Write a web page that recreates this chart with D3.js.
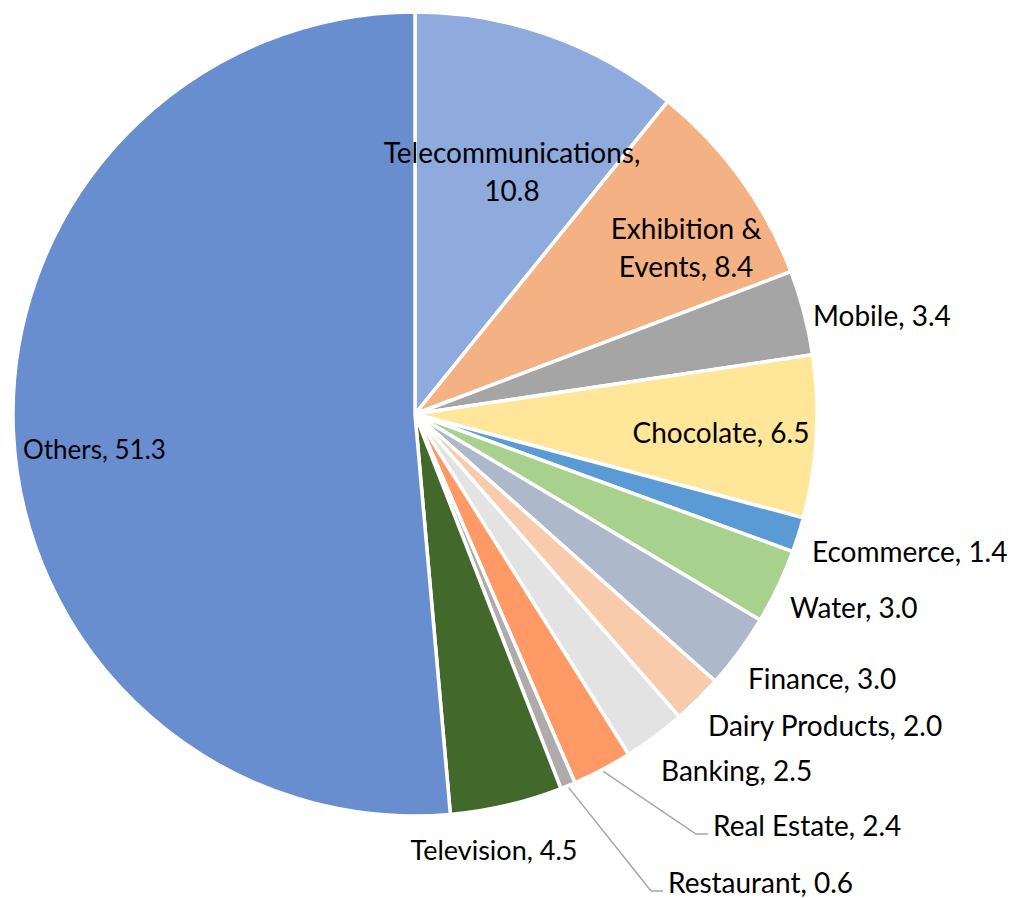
<!DOCTYPE html>
<html>
<head>
<meta charset="utf-8">
<script src="https://cdn.jsdelivr.net/npm/d3@7"></script>
<style>
  body { margin: 0; background: #fff; }
  svg text { font-family: Lato, "Open Sans", sans-serif; fill: #000; }
</style>
</head>
<body>
<svg id="chart" width="1010" height="898"></svg>
<script>
// slices, clockwise from 12 o'clock
var categories = ['Telecommunications', 'Exhibition & Events', 'Mobile', 'Chocolate', 'Ecommerce',
	'Water', 'Finance', 'Dairy Products', 'Banking', 'Real Estate', 'Restaurant', 'Television', 'Others']
var values = [10.8, 8.4, 3.4, 6.5, 1.4, 3.0, 3.0, 2.0, 2.5, 2.4, 0.6, 4.5, 51.3]
var colors = ['#8FAADC', '#F4B183', '#A5A5A5', '#FFE699', '#5B9BD5', '#A9D18E', '#ADB9CA',
	'#F8CBAD', '#E3E3E3', '#FF9A66', '#AFABAB', '#43682B', '#698ED0']

// label text lines
var labelLines = [
	['Telecommunications,', '10.8'],
	['Exhibition &', 'Events, 8.4'],
	['Mobile, 3.4'],
	['Chocolate, 6.5'],
	['Ecommerce, 1.4'],
	['Water, 3.0'],
	['Finance, 3.0'],
	['Dairy Products, 2.0'],
	['Banking, 2.5'],
	['Real Estate, 2.4'],
	['Restaurant, 0.6'],
	['Television, 4.5'],
	['Others, 51.3']
]

// label placement relative to pie centre (x, y of first line, anchor, leader line?)
var labelLayout = [
	{x: 97, y: -261, anchor: 'middle'},
	{x: 271, y: -185, anchor: 'middle'},
	{x: 398, y: -98, anchor: 'start'},
	{x: 306, y: 19, anchor: 'middle'},
	{x: 397, y: 138, anchor: 'start'},
	{x: 375, y: 194, anchor: 'start'},
	{x: 333, y: 265, anchor: 'start'},
	{x: 293, y: 312, anchor: 'start'},
	{x: 246, y: 357, anchor: 'start'},
	{x: 298, y: 412, anchor: 'start', leader: true},
	{x: 253, y: 469, anchor: 'start', leader: true},
	{x: 79, y: 437, anchor: 'middle', size: 27},
	{x: -392, y: 36, anchor: 'start', size: 26}
]

var cx = 415, cy = 414, radius = 402
var fontSize = 28, lineGap = 38

var svg = d3.select('#chart')
var g = svg.append('g').attr('transform', 'translate(' + cx + ',' + cy + ')')

var data = categories.map(function(c, i) { return {name: c, value: values[i], i: i} })

var pie = d3.pie().sort(null).value(function(d) { return d.value })
var arcs = pie(data)

var arc = d3.arc().innerRadius(0).outerRadius(radius)

g.selectAll('path.slice')
	.data(arcs)
	.enter().append('path')
		.attr('class', 'slice')
		.attr('d', arc)
		.attr('fill', function(d) { return colors[d.data.i] })
		.attr('stroke', '#fff')
		.attr('stroke-width', 3.5)
		.attr('stroke-linejoin', 'round')

// leader lines for the two thin slices
var edgeArc = d3.arc().innerRadius(radius + 2).outerRadius(radius + 2)
arcs.forEach(function(d) {
	var lay = labelLayout[d.data.i]
	if (!lay.leader) return
	var p = edgeArc.centroid(d)
	var bend = [lay.x - 17, lay.y + 8]
	var end = [lay.x - 5, lay.y + 8]
	g.append('path')
		.attr('d', d3.line()([p, bend, end]))
		.attr('fill', 'none')
		.attr('stroke', '#A6A6A6')
		.attr('stroke-width', 1.5)
})

// labels
arcs.forEach(function(d) {
	var i = d.data.i
	var lay = labelLayout[i]
	var t = g.append('text')
		.attr('text-anchor', lay.anchor)
		.style('font-size', (lay.size || fontSize) + 'px')
	labelLines[i].forEach(function(line, k) {
		t.append('tspan')
			.attr('x', lay.x)
			.attr('y', lay.y + k * lineGap)
			.attr('dy', '0.35em')
			.text(line)
	})
})
</script>
</body>
</html>
